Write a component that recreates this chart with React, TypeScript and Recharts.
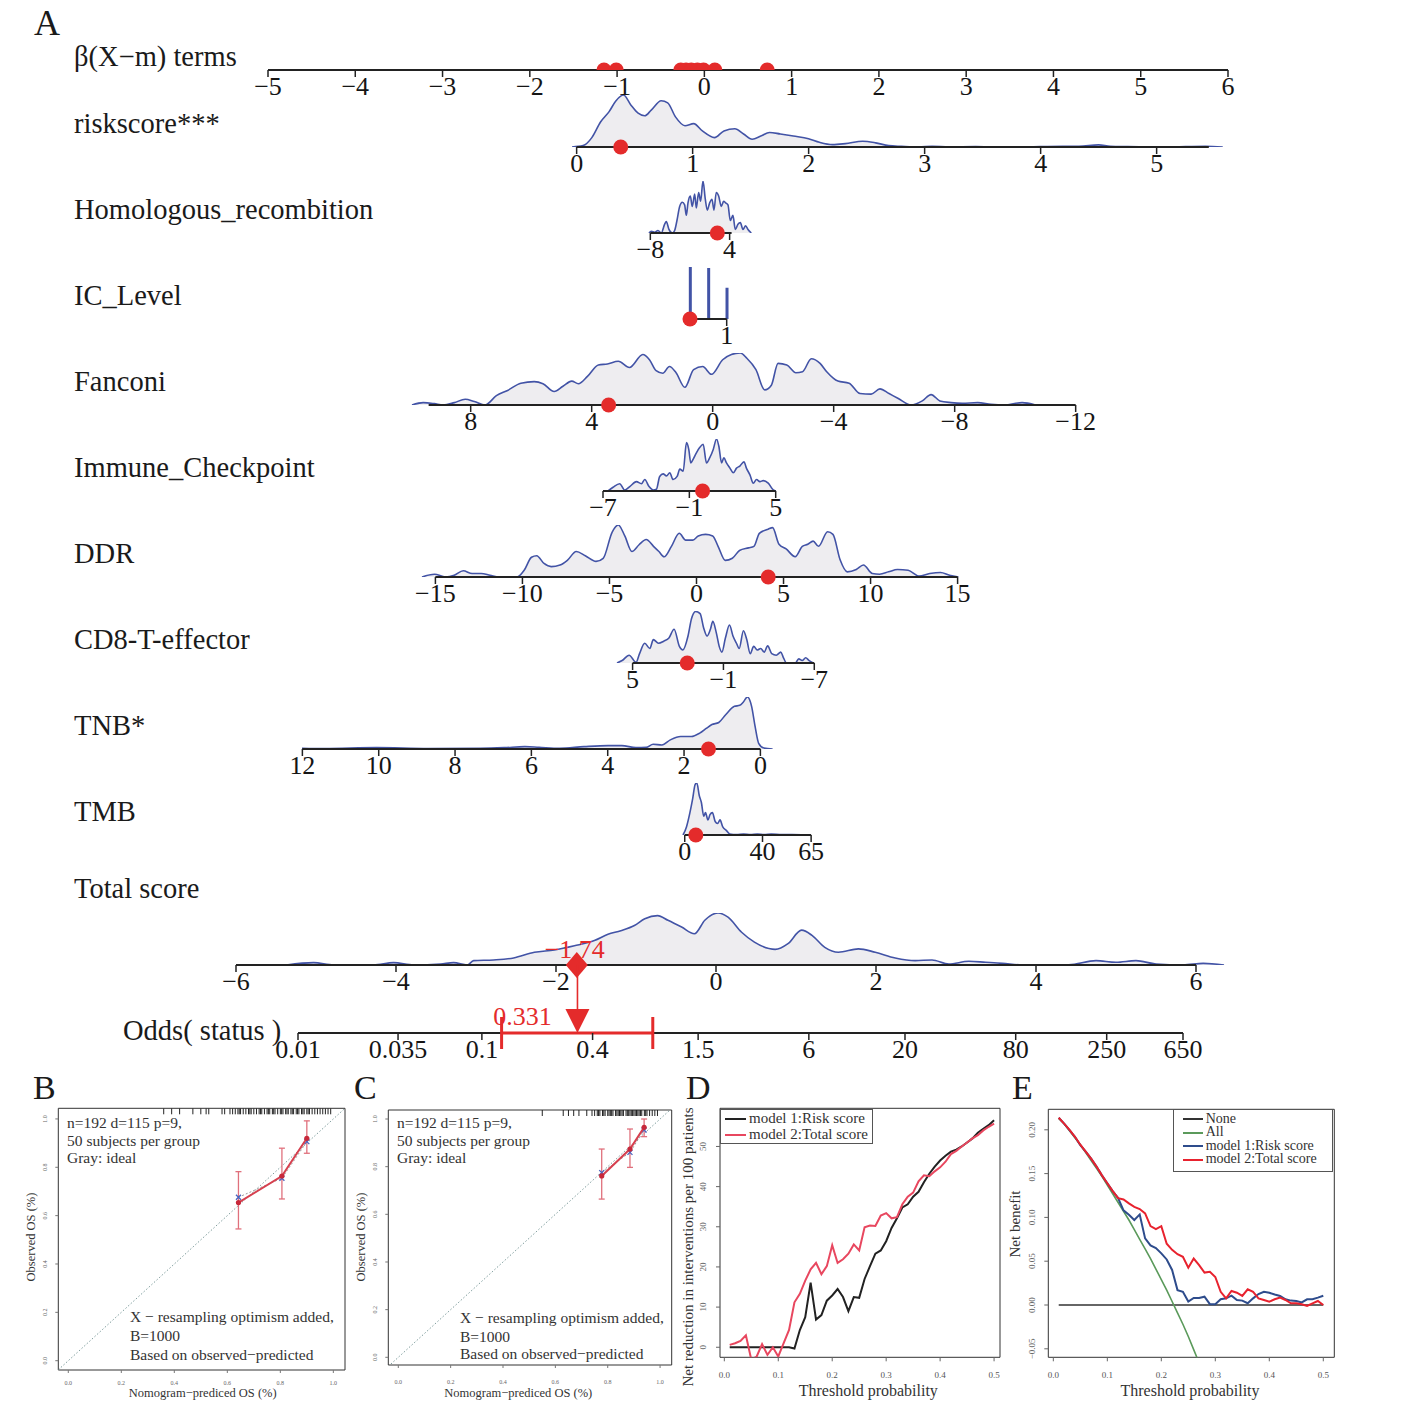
import React from 'react';
import {
  ComposedChart, LineChart, Area, Bar, Line, Scatter, XAxis, YAxis,
  ReferenceLine, ReferenceDot, ReferenceArea, ErrorBar,
} from 'recharts';

const SERIF = "'Liberation Serif', 'Times New Roman', Times, serif";
const RED = '#E42B2B';
const BLUE = '#4253A6';
const FILL = '#EEEDF0';
const MINUS = '\u2212';
const fmt = (v: number) => String(v).replace('-', MINUS);

// ---------- panel A : nomogram ----------
const betaTicks = [-5, -4, -3, -2, -1, 0, 1, 2, 3, 4, 5, 6];
const betaPoints = [-1.15, -1.01, -0.27, -0.21, -0.15, -0.08, -0.01, 0.12, 0.72];

const riskTicks = [0, 1, 2, 3, 4, 5];
const riskPoint = 0.38;
const riskDensity = [
  [-0.04, 0], [0.056, 0.027], [0.131, 0.18], [0.206, 0.48], [0.28, 0.68], [0.336, 0.88], [0.404, 1],
  [0.467, 0.81], [0.53, 0.65], [0.587, 0.6], [0.643, 0.71], [0.729, 0.89], [0.785, 0.85], [0.852, 0.58],
  [0.934, 0.41], [1.009, 0.45], [1.084, 0.31], [1.188, 0.18], [1.27, 0.31], [1.364, 0.35], [1.439, 0.25],
  [1.513, 0.15], [1.588, 0.21], [1.663, 0.28], [1.756, 0.25], [1.868, 0.21], [1.999, 0.16], [2.093, 0.09],
  [2.205, 0.045], [2.317, 0.065], [2.466, 0.11], [2.578, 0.08], [2.69, 0.027], [2.8, 0.013], [2.95, 0],
  [3.064, 0.013], [3.21, 0], [3.44, 0.007], [3.59, 0], [3.81, 0], [4.19, 0.013], [4.33, 0.013], [4.5, 0.04],
  [4.6, 0.013], [4.75, 0.007], [5.08, 0], [5.42, 0.013], [5.57, 0],
];

const hrTicks = [-8, 4];
const hrPoint = 2.14;
const hrDensity = [
  [-8.2, 0], [-7.85, 0.034], [-7.34, 0.014], [-6.84, 0.048], [-6.34, 0], [-5.83, 0.17], [-5.58, 0.22],
  [-5.18, 0.068], [-4.67, 0], [-4.32, 0.048], [-3.97, 0.24], [-3.56, 0.51], [-3.16, 0.59], [-2.81, 0.54],
  [-2.55, 0.34], [-2.3, 0.58], [-1.95, 0.71], [-1.65, 0.51], [-1.29, 0.75], [-1.04, 0.48], [-0.69, 0.78],
  [-0.39, 0.61], [-0.03, 1], [0.32, 0.65], [0.62, 0.44], [0.98, 0.58], [1.33, 0.65], [1.63, 0.44],
  [1.98, 0.78], [2.34, 0.71], [2.74, 0.51], [3.09, 0.61], [3.4, 0.58], [3.75, 0.54], [4.1, 0.24],
  [4.5, 0.34], [4.86, 0.068], [5.26, 0.17], [5.62, 0.2], [6.02, 0.068], [6.42, 0.14], [6.78, 0.068], [7.28, 0],
];

const icTicks = [1];
const icPoint = 0;
const icSpikes = [[0, 1], [0.5, 0.98], [1, 0.6]];

const fanconiTicks = [8, 4, 0, -4, -8, -12];
const fanconiPoint = 3.44;
const fanconiDensity = [
  [9.94, 0], [9.57, 0.046], [9.2, 0.026], [8.91, 0], [8.54, 0.046], [8.18, 0.11], [7.88, 0.066], [7.52, 0],
  [7.15, 0.18], [6.78, 0.28], [6.34, 0.42], [5.9, 0.45], [5.61, 0.41], [5.24, 0.26], [4.95, 0.36],
  [4.66, 0.46], [4.44, 0.41], [4.14, 0.55], [3.78, 0.77], [3.48, 0.79], [3.12, 0.84], [2.75, 0.72],
  [2.31, 0.97], [2.09, 0.87], [1.87, 0.66], [1.65, 0.61], [1.43, 0.74], [1.21, 0.62], [0.92, 0.34],
  [0.63, 0.68], [0.33, 0.74], [0.04, 0.59], [-0.33, 0.87], [-0.62, 0.97], [-0.91, 1], [-1.13, 0.9],
  [-1.43, 0.68], [-1.72, 0.29], [-1.94, 0.38], [-2.16, 0.8], [-2.45, 0.77], [-2.75, 0.62], [-2.97, 0.64],
  [-3.26, 0.89], [-3.55, 0.8], [-3.77, 0.64], [-4.14, 0.46], [-4.51, 0.42], [-4.87, 0.22], [-5.24, 0.21],
  [-5.53, 0.31], [-5.83, 0.22], [-6.12, 0.13], [-6.56, 0], [-6.93, 0.079], [-7.22, 0.2], [-7.51, 0.079],
  [-7.88, 0.046], [-8.25, 0.033], [-8.76, 0.046], [-9.2, 0.013], [-9.64, 0], [-10.23, 0.046], [-10.67, 0],
];

const immuneTicks = [-7, -1, 5];
const immunePoint = -0.08;
const immuneDensity = [
  [-6.65, 0], [-6.3, 0.072], [-5.84, 0.14], [-5.49, 0.02], [-5.14, 0.085], [-4.68, 0.18], [-4.33, 0.14],
  [-4.1, 0.22], [-3.8, 0.085], [-3.52, 0.02], [-3.29, 0.033], [-3.06, 0.28], [-2.82, 0.33], [-2.59, 0.29],
  [-2.36, 0.35], [-2.13, 0.22], [-1.85, 0.28], [-1.66, 0.42], [-1.43, 0.38], [-1.2, 0.93], [-1.04, 0.8],
  [-0.9, 0.54], [-0.74, 0.61], [-0.5, 0.74], [-0.27, 0.84], [-0.04, 0.9], [0.19, 0.54], [0.42, 0.64],
  [0.66, 0.8], [0.89, 1], [1.05, 0.86], [1.24, 0.54], [1.4, 0.64], [1.58, 0.54], [1.82, 0.44], [2.05, 0.35],
  [2.28, 0.44], [2.51, 0.48], [2.79, 0.56], [2.98, 0.43], [3.21, 0.31], [3.44, 0.15], [3.67, 0.22],
  [3.9, 0.18], [4.14, 0.2], [4.48, 0.15], [4.83, 0.02], [5.02, 0],
];

const ddrTicks = [-15, -10, -5, 0, 5, 10, 15];
const ddrPoint = 4.12;
const ddrDensity = [
  [-15.77, 0], [-15.05, 0.053], [-14.43, 0], [-13.92, 0.033], [-13.4, 0.12], [-12.89, 0.066], [-12.37, 0.066],
  [-11.86, 0.033], [-11.34, 0], [-10.31, 0], [-9.9, 0.13], [-9.48, 0.38], [-9.18, 0.41], [-8.76, 0.26],
  [-8.35, 0.2], [-7.84, 0.23], [-7.42, 0.32], [-6.91, 0.49], [-6.39, 0.41], [-5.77, 0.3], [-5.36, 0.36],
  [-4.85, 0.86], [-4.49, 1], [-4.12, 0.79], [-3.71, 0.49], [-3.3, 0.62], [-2.89, 0.72], [-2.47, 0.59],
  [-2.16, 0.49], [-1.86, 0.39], [-1.44, 0.59], [-0.99, 0.84], [-0.62, 0.71], [-0.21, 0.71], [0.1, 0.79],
  [0.52, 0.82], [0.93, 0.79], [1.24, 0.59], [1.65, 0.32], [2.06, 0.36], [2.47, 0.51], [2.99, 0.56],
  [3.3, 0.59], [3.61, 0.84], [4.12, 0.92], [4.37, 0.95], [4.74, 0.63], [5.15, 0.54], [5.67, 0.39],
  [6.08, 0.59], [6.39, 0.63], [6.7, 0.69], [7.01, 0.59], [7.53, 0.87], [7.84, 0.82], [8.25, 0.33],
  [8.66, 0.099], [9.18, 0.145], [9.59, 0.23], [10.1, 0.066], [10.52, 0.053], [11.03, 0.099], [11.55, 0.145],
  [12.16, 0.13], [12.78, 0.02], [13.4, 0.066], [14.02, 0.086], [14.54, 0.033], [15.05, 0],
];

const cd8Ticks = [5, -1, -7];
const cd8Point = 1.39;
const cd8Density = [
  [6.03, 0], [5.69, 0.047], [5.23, 0.15], [4.77, 0.013], [4.54, 0.18], [4.2, 0.38], [3.86, 0.28], [3.63, 0.45],
  [3.29, 0.38], [2.94, 0.42], [2.6, 0.48], [2.26, 0.65], [1.91, 0.32], [1.68, 0.25], [1.34, 0.52], [1.11, 0.85],
  [0.84, 0.99], [0.54, 0.95], [0.31, 0.68], [0.08, 0.52], [-0.14, 0.65], [-0.3, 0.8], [-0.53, 0.58],
  [-0.72, 0.32], [-0.9, 0.21], [-1.13, 0.48], [-1.4, 0.73], [-1.63, 0.52], [-1.86, 0.38], [-2.04, 0.28],
  [-2.32, 0.62], [-2.54, 0.45], [-2.77, 0.18], [-3.0, 0.32], [-3.23, 0.25], [-3.46, 0.28], [-3.69, 0.21],
  [-3.92, 0.33], [-4.19, 0.18], [-4.49, 0.15], [-4.79, 0.21], [-4.95, 0.11], [-5.17, 0], [-5.75, 0],
  [-5.97, 0.08], [-6.2, 0.047], [-6.43, 0.1], [-6.66, 0.047], [-6.93, 0],
];

const tnbTicks = [12, 10, 8, 6, 4, 2, 0];
const tnbPoint = 1.36;
const tnbDensity = [
  [12.01, 0.013], [11.42, 0.007], [10.06, 0.026], [8.7, 0.007], [7.34, 0.013], [6.71, 0.026], [6.17, 0.045],
  [5.8, 0.032], [5.26, 0.013], [4.62, 0.045], [3.99, 0.065], [3.63, 0.065], [3.26, 0.026], [2.99, 0.032],
  [2.81, 0.091], [2.58, 0.078], [2.36, 0.175], [2.09, 0.24], [1.81, 0.24], [1.59, 0.305], [1.41, 0.4],
  [1.27, 0.47], [1.09, 0.51], [0.91, 0.66], [0.68, 0.82], [0.54, 0.84], [0.45, 0.9], [0.34, 1], [0.23, 0.82],
  [0.14, 0.44], [0.045, 0.11], [-0.09, 0.02], [-0.32, 0],
];

const tmbTicks = [0, 40, 65];
const tmbPoint = 5.7;
const tmbDensity = [
  [-0.89, 0], [0.89, 0.155], [2.67, 0.43], [4.09, 0.7], [5.34, 0.97], [6.23, 1], [7.47, 0.76], [8.54, 0.63],
  [9.79, 0.36], [10.68, 0.43], [11.92, 0.29], [12.99, 0.39], [14.23, 0.43], [15.66, 0.26], [16.9, 0.22],
  [18.15, 0.29], [19.57, 0.155], [21.35, 0.09], [23.13, 0.02], [26.69, 0.007], [30.25, 0.02], [33.81, 0.007],
  [37.37, 0.02], [40.93, 0.007], [44.48, 0.02], [49.82, 0.007], [55.16, 0.007], [62.28, 0],
];

const totalTicks = [-6, -4, -2, 0, 2, 4, 6];
const totalPoint = -1.74;
const totalDensity = [
  [-5.37, 0], [-5.03, 0.045], [-4.78, 0], [-4.28, 0], [-4.03, 0.045], [-3.78, 0], [-3.44, 0.019],
  [-3.28, 0.045], [-3.11, 0], [-3.03, 0.084], [-2.78, 0.097], [-2.53, 0.135], [-2.27, 0.245], [-2.02, 0.29],
  [-1.77, 0.37], [-1.52, 0.47], [-1.35, 0.59], [-1.19, 0.66], [-1.02, 0.76], [-0.89, 0.89], [-0.73, 0.95],
  [-0.6, 0.86], [-0.43, 0.73], [-0.27, 0.6], [-0.14, 0.86], [0.025, 1], [0.15, 0.92], [0.32, 0.63],
  [0.48, 0.44], [0.74, 0.3], [0.9, 0.41], [1.07, 0.67], [1.2, 0.57], [1.36, 0.34], [1.53, 0.245],
  [1.78, 0.31], [1.99, 0.245], [2.24, 0.135], [2.49, 0.084], [2.7, 0.097], [2.91, 0.019], [3.16, 0.071],
  [3.37, 0.052], [3.58, 0.032], [3.83, 0], [4.08, 0], [4.41, 0.006], [4.75, 0.084], [5.0, 0.052],
  [5.25, 0.084], [5.5, 0.019], [5.84, 0], [6.09, 0.032], [6.35, 0],
];

const oddsTicks = [0.01, 0.035, 0.1, 0.4, 1.5, 6, 20, 80, 250, 650];
const oddsPoint = 0.331;
const oddsLow = 0.128;
const oddsHigh = 0.85;

// ---------- panels B / C : calibration ----------
const calTicks = [0, 0.2, 0.4, 0.6, 0.8, 1.0];
const calBPred = [0.642, 0.806, 0.9];
const calBObs = [0.654, 0.764, 0.92];
const calBCorr = [0.676, 0.755, 0.906];
const calBLow = [0.545, 0.669, 0.858];
const calBHigh = [0.782, 0.879, 0.992];
const rugB = [0.36, 0.39, 0.42, 0.47, 0.5, 0.52, 0.53, 0.58, 0.59, 0.61, 0.62, 0.63, 0.64, 0.645, 0.65, 0.66,
  0.67, 0.68, 0.685, 0.69, 0.7, 0.71, 0.72, 0.725, 0.73, 0.74, 0.75, 0.755, 0.76, 0.77, 0.775, 0.78, 0.79, 0.8,
  0.805, 0.81, 0.82, 0.825, 0.83, 0.84, 0.845, 0.85, 0.86, 0.865, 0.87, 0.88, 0.885, 0.89, 0.9, 0.905, 0.91,
  0.92, 0.93, 0.94, 0.95, 0.96, 0.97, 0.98, 0.99];

const calCPred = [0.777, 0.885, 0.939];
const calCObs = [0.761, 0.874, 0.965];
const calCCorr = [0.775, 0.86, 0.954];
const calCLow = [0.664, 0.797, 0.926];
const calCHigh = [0.874, 0.958, 1.0];
const rugC = [0.55, 0.63, 0.65, 0.67, 0.69, 0.72, 0.74, 0.75, 0.76, 0.765, 0.77, 0.78, 0.785, 0.79, 0.8, 0.805,
  0.81, 0.815, 0.82, 0.83, 0.835, 0.84, 0.845, 0.85, 0.855, 0.86, 0.87, 0.875, 0.88, 0.885, 0.89, 0.895, 0.9,
  0.905, 0.91, 0.915, 0.92, 0.925, 0.93, 0.94, 0.945, 0.95, 0.96, 0.97, 0.98, 0.99];

// ---------- panels D / E : decision curves ----------
const thresholds = [0.01, 0.02, 0.03, 0.04, 0.05, 0.06, 0.07, 0.08, 0.09, 0.1, 0.11, 0.12, 0.13, 0.14, 0.15,
  0.16, 0.17, 0.18, 0.19, 0.2, 0.21, 0.22, 0.23, 0.24, 0.25, 0.26, 0.27, 0.28, 0.29, 0.3, 0.31, 0.32, 0.33,
  0.34, 0.35, 0.36, 0.37, 0.38, 0.39, 0.4, 0.41, 0.42, 0.43, 0.44, 0.45, 0.46, 0.47, 0.48, 0.49, 0.5];
const dModel1 = [0, 0, 0, 0, 0, 0, 0, 0, 0, 0, 0, 0, -0.3, 4.3, 7.5, 16.1, 6.9, 8, 11.6, 12.9, 14.5, 12.5, 9,
  12.5, 12.3, 17, 20.2, 23.3, 24.1, 26.4, 29.7, 32.1, 34.8, 35.6, 37.5, 38.7, 41.1, 43.2, 45, 46.5, 47.7, 48.7,
  49.2, 50, 51, 52, 53.4, 54.4, 55.3, 56.5];
const dModel2 = [0.6, 1, 1.6, 3, -3.1, -2.3, 0.8, -1.9, 0, -2.3, 1, 4.3, 11.2, 13.3, 16.6, 19.4, 21, 18.2, 20.2,
  25.4, 21, 21.9, 23.3, 25.6, 24.1, 29.9, 30.3, 30.2, 32.8, 33.4, 32.1, 32.4, 35.6, 37.5, 38.5, 41.3, 42.8,
  42.6, 43.8, 44.8, 46.2, 48.1, 48.9, 50, 51, 52, 52.8, 54, 54.9, 55.7];
const eAll = [0.213, 0.207, 0.199, 0.191, 0.183, 0.174, 0.165, 0.156, 0.147, 0.137, 0.127, 0.117, 0.107, 0.097,
  0.086, 0.075, 0.064, 0.053, 0.041, 0.029, 0.017, 0.004, -0.009, -0.022, -0.036, -0.051, -0.066];
const eModel1 = [0.2137, 0.207, 0.1996, 0.192, 0.1825, 0.175, 0.167, 0.158, 0.148, 0.139, 0.13, 0.122, 0.108,
  0.103, 0.097, 0.1034, 0.076, 0.068, 0.065, 0.059, 0.052, 0.04, 0.017, 0.015, 0.004, 0.008, 0.008, 0.0095,
  0.001, 0.001, 0.0065, 0.0076, 0.0106, 0.0057, 0.005, 0.002, 0.0076, 0.0125, 0.015, 0.014, 0.012, 0.0103,
  0.0065, 0.005, 0.0046, 0.003, 0.0065, 0.0065, 0.0084, 0.0106];
const eModel2 = [0.2137, 0.207, 0.2, 0.192, 0.183, 0.175, 0.167, 0.158, 0.148, 0.139, 0.13, 0.122, 0.1205,
  0.116, 0.112, 0.1095, 0.1046, 0.09, 0.0867, 0.09, 0.07, 0.063, 0.058, 0.055, 0.0426, 0.053, 0.0456, 0.037,
  0.038, 0.032, 0.015, 0.0076, 0.016, 0.014, 0.0103, 0.0179, 0.015, 0.0076, 0.0057, 0.0038, 0.0065, 0.0084,
  0.0057, 0.0019, 0.0019, 0.0008, -0.0011, 0.0019, 0.0046, 0];

// ---------- layout ----------
type RowDef = {
  label: string; labelX?: number; labelMid: number; axisY: number;
  pxA: number; vA: number; pxB: number; vB: number; axis: number[];
  ticks: number[]; density?: number[][]; spikes?: number[][];
  point?: number; points?: number[]; log?: boolean; plotH?: number; kind?: string;
};

const rows: RowDef[] = [
  { label: 'β(X−m) terms', labelMid: 58, axisY: 70, pxA: 268, vA: -5, pxB: 1228, vB: 6, axis: [-5, 6], ticks: betaTicks, points: betaPoints },
  { label: 'riskscore***', labelMid: 125, axisY: 147, pxA: 577, vA: 0, pxB: 1157, vB: 5, axis: [0, 5.45], ticks: riskTicks, density: riskDensity, point: riskPoint },
  { label: 'Homologous_recombition', labelMid: 211, axisY: 233, pxA: 650.7, vA: -8, pxB: 730, vB: 4, axis: [-8, 4.3], ticks: hrTicks, density: hrDensity, point: hrPoint },
  { label: 'IC_Level', labelMid: 297, axisY: 319, pxA: 690, vA: 0, pxB: 726.7, vB: 1, axis: [0, 1], ticks: icTicks, spikes: icSpikes, point: icPoint },
  { label: 'Fanconi', labelMid: 383, axisY: 405, pxA: 471, vA: 8, pxB: 1076, vB: -12, axis: [-12, 9.39], ticks: fanconiTicks, density: fanconiDensity, point: fanconiPoint },
  { label: 'Immune_Checkpoint', labelMid: 469, axisY: 491, pxA: 603.3, vA: -7, pxB: 776, vB: 5, axis: [-7, 5], ticks: immuneTicks, density: immuneDensity, point: immunePoint },
  { label: 'DDR', labelMid: 555, axisY: 577, pxA: 435.8, vA: -15, pxB: 958, vB: 15, axis: [-15, 15], ticks: ddrTicks, density: ddrDensity, point: ddrPoint },
  { label: 'CD8-T-effector', labelMid: 641, axisY: 663, pxA: 632.7, vA: 5, pxB: 814.4, vB: -7, axis: [-7, 5], ticks: cd8Ticks, density: cd8Density, point: cd8Point },
  { label: 'TNB*', labelMid: 727, axisY: 749, pxA: 302, vA: 12, pxB: 760, vB: 0, axis: [0, 12], ticks: tnbTicks, density: tnbDensity, point: tnbPoint },
  { label: 'TMB', labelMid: 813, axisY: 835, pxA: 684.6, vA: 0, pxB: 811, vB: 65, axis: [0, 65], ticks: tmbTicks, density: tmbDensity, point: tmbPoint },
  { label: 'Total score', labelMid: 890, axisY: 965, pxA: 236, vA: -6, pxB: 1196, vB: 6, axis: [-6, 6], ticks: totalTicks, density: totalDensity, point: totalPoint, kind: 'total' },
  { label: 'Odds( status )', labelX: 123, labelMid: 1032, axisY: 1033, pxA: 298, vA: 0.01, pxB: 1183, vB: 650, axis: [0.01, 650], ticks: oddsTicks, log: true, plotH: 68, kind: 'odds' },
];

function rowGeom(r: RowDef) {
  const f = r.log ? Math.log10 : (v: number) => v;
  const inv = r.log ? (u: number) => Math.pow(10, u) : (u: number) => u;
  const b = (r.pxB - r.pxA) / (f(r.vB) - f(r.vA));
  const px = (u: number) => r.pxA + b * (u - f(r.vA));
  const xs = [f(r.axis[0]), f(r.axis[1])];
  (r.density || []).forEach(([x]) => xs.push(f(x)));
  const pad = 36 / Math.abs(b);
  const lo = Math.min(...xs) - pad;
  const hi = Math.max(...xs) + pad;
  return {
    domain: [inv(lo), inv(hi)],
    left: Math.min(px(lo), px(hi)),
    width: Math.abs(b) * (hi - lo),
    reversed: b < 0,
  };
}

const LABEL_SIZE = 28.5;
const TICK_SIZE = 26;

function Txt({ x, base, size, color = '#1a1a1a', anchor = 'start', children }: any) {
  return (
    <div style={{
      position: 'absolute', left: x, top: base - 0.8375 * size, fontSize: size, lineHeight: 1,
      whiteSpace: 'nowrap', color, fontFamily: SERIF,
      transform: anchor === 'middle' ? 'translateX(-50%)' : undefined,
    }}>{children}</div>
  );
}

function VTxt({ cx, cy, size, color = '#222', children }: any) {
  return (
    <div style={{
      position: 'absolute', left: cx, top: cy, fontSize: size, lineHeight: 1, whiteSpace: 'nowrap',
      color, fontFamily: SERIF, transform: 'translate(-50%, -50%) rotate(-90deg)',
    }}>{children}</div>
  );
}

const RedDot = (p: any) => <circle cx={p.cx} cy={p.cy} r={7.5} fill={RED} />;

const Diamond = (p: any) => (
  <g>
    <polygon points={`${p.cx},${p.cy - 13} ${p.cx + 11},${p.cy} ${p.cx},${p.cy + 13} ${p.cx - 11},${p.cy}`} fill={RED} />
    <text x={p.cx - 2} y={p.cy - 7} textAnchor="middle" fontSize={TICK_SIZE} fill={RED} fontFamily={SERIF}>{fmt(totalPoint)}</text>
  </g>
);

const Arrow = (p: any) => (
  <g>
    <polygon points={`${p.cx - 12},${p.cy - 24} ${p.cx + 12},${p.cy - 24} ${p.cx},${p.cy}`} fill={RED} />
    <text x={p.cx - 55} y={p.cy - 8} textAnchor="middle" fontSize={TICK_SIZE} fill={RED} fontFamily={SERIF}>{String(oddsPoint)}</text>
  </g>
);

function NomoRow({ r }: { r: RowDef }) {
  const g = rowGeom(r);
  const plotH = r.plotH || 52;
  const top = 2;
  const axisH = 36;
  const h = top + plotH + axisH;
  let data: any[] = [];
  if (r.density) data = r.density.map(([x, d]) => ({ x, d }));
  else if (r.spikes) data = r.spikes.map(([x, d]) => ({ x, d }));
  else if (r.points) data = r.points.map((x) => ({ x, y: 0 }));
  const oddsData = [{ x: oddsPoint, y: 0, err: [oddsPoint - oddsLow, oddsHigh - oddsPoint] }];
  return (
    <div style={{ position: 'absolute', left: g.left, top: r.axisY - plotH - top, width: g.width, height: h }}>
      <ComposedChart width={g.width} height={h} data={r.kind === 'odds' ? oddsData : data}
        margin={{ top, right: 0, bottom: 0, left: 0 }}>
        <XAxis dataKey="x" type="number" scale={r.log ? 'log' : 'auto'} domain={g.domain} allowDataOverflow
          reversed={g.reversed} ticks={r.ticks} interval={0} axisLine={false}
          tickLine={{ stroke: '#222', strokeWidth: 1.5 }} tickSize={7} tickMargin={0} height={axisH}
          tick={{ fontSize: TICK_SIZE, fill: '#151515', fontFamily: SERIF }} tickFormatter={fmt} />
        <YAxis hide type="number" domain={[0, 1]} allowDataOverflow />
        {r.density && (
          <Area type="monotone" dataKey="d" stroke={BLUE} strokeWidth={1.6} fill={FILL} fillOpacity={1}
            dot={false} activeDot={false} isAnimationActive={false} />
        )}
        {r.spikes && <Bar dataKey="d" fill={BLUE} barSize={3} isAnimationActive={false} />}
        <ReferenceLine segment={[{ x: r.axis[0], y: 0 }, { x: r.axis[1], y: 0 }]} stroke="#222"
          strokeWidth={2} ifOverflow="visible" />
        {r.points && <Scatter dataKey="y" shape={RedDot} isAnimationActive={false} />}
        {r.point !== undefined && r.kind !== 'total' && (
          <ReferenceDot x={r.point} y={0} r={7.5} fill={RED} stroke="none" ifOverflow="visible" />
        )}
        {r.kind === 'total' && (
          <ReferenceDot x={r.point} y={0} r={10} ifOverflow="visible" shape={Diamond} />
        )}
        {r.kind === 'odds' && (
          <ReferenceLine segment={[{ x: oddsPoint, y: 1 }, { x: oddsPoint, y: 0.3 }]} stroke={RED}
            strokeWidth={1.6} ifOverflow="visible" />
        )}
        {r.kind === 'odds' && (
          <Scatter dataKey="y" shape={Arrow} isAnimationActive={false}>
            <ErrorBar dataKey="err" direction="x" width={16} stroke={RED} strokeWidth={3} />
          </Scatter>
        )}
      </ComposedChart>
    </div>
  );
}

// ---------- small helpers for B-E ----------
const RotTick = (p: any) => {
  const { x, y, payload, size, digits } = p;
  return (
    <text x={x} y={y} transform={`rotate(-90 ${x} ${y})`} textAnchor="middle" fontSize={size}
      fill="#666" fontFamily={SERIF}>{Number(payload.value).toFixed(digits).replace('-', MINUS)}</text>
  );
};

const RugMark = (p: any) => <line x1={p.cx} x2={p.cx} y1={p.cy} y2={p.cy + 6} stroke="#222" strokeWidth={1} />;
const XMark = (p: any) => (
  <g stroke="#4A64C0" strokeWidth={1.3}>
    <line x1={p.cx - 2.5} y1={p.cy - 2.5} x2={p.cx + 2.5} y2={p.cy + 2.5} />
    <line x1={p.cx - 2.5} y1={p.cy + 2.5} x2={p.cx + 2.5} y2={p.cy - 2.5} />
  </g>
);
const SmallDot = (p: any) => <circle cx={p.cx} cy={p.cy} r={2.6} fill="#C8283A" />;

function CalPanel({ g, pred, obs, corr, low, high, rug }: any) {
  const obsData = pred.map((x: number, i: number) => ({ x, y: obs[i], err: [obs[i] - low[i], high[i] - obs[i]] }));
  const corrData = pred.map((x: number, i: number) => ({ x, y: corr[i] }));
  const rugData = rug.map((x: number) => ({ x, y: g.yd[1] }));
  return (
    <div style={{ position: 'absolute', left: g.left, top: g.top, width: g.w, height: g.h }}>
      <ComposedChart width={g.w} height={g.h} margin={{ top: g.mt, right: g.mr, left: 0, bottom: 0 }}>
        <XAxis dataKey="x" type="number" domain={g.xd} allowDataOverflow ticks={calTicks} interval={0}
          axisLine={false} tickLine={{ stroke: '#777' }} tickSize={3} tickMargin={g.xm} height={g.xh}
          tick={{ fontSize: 6, fill: '#666', fontFamily: SERIF }} tickFormatter={(v: number) => v.toFixed(1)} />
        <YAxis dataKey="y" type="number" domain={g.yd} allowDataOverflow ticks={calTicks} interval={0}
          axisLine={false} tickLine={{ stroke: '#777' }} tickSize={3} tickMargin={g.ym} width={g.yw}
          tick={<RotTick size={6} digits={1} />} />
        <ReferenceArea x1={g.xd[0]} x2={g.xd[1]} y1={g.yd[0]} y2={g.yd[1]} fill="none" stroke="#333"
          strokeWidth={1} ifOverflow="visible" />
        <ReferenceLine segment={[{ x: g.xd[0], y: g.xd[0] }, { x: g.yd[1], y: g.yd[1] }]} stroke="#7E9C9C"
          strokeDasharray="1.5 2" strokeWidth={1} ifOverflow="hidden" />
        <Scatter data={rugData} dataKey="y" shape={RugMark} isAnimationActive={false} />
        <Scatter data={corrData} dataKey="y" line={{ stroke: '#9a9a9a', strokeDasharray: '2 2', strokeWidth: 1 }}
          shape={XMark} isAnimationActive={false} />
        <Scatter data={obsData} dataKey="y" line={{ stroke: '#D6404F', strokeWidth: 2 }} shape={SmallDot}
          isAnimationActive={false}>
          <ErrorBar dataKey="err" direction="y" width={3} stroke="#E0707C" strokeWidth={1.3} />
        </Scatter>
      </ComposedChart>
    </div>
  );
}

function LegendBox({ x, y, w, h, items, first, step, sx, sw, tx, size }: any) {
  return (
    <div style={{ position: 'absolute', left: x, top: y, width: w, height: h, border: '1px solid #555',
      boxSizing: 'border-box', background: '#fff' }}>
      {items.map((it: any, i: number) => (
        <React.Fragment key={it.label}>
          <div style={{ position: 'absolute', left: sx, top: first + i * step - 1, width: sw, height: 2, background: it.color }} />
          <div style={{ position: 'absolute', left: tx, top: first + i * step - size * 0.55, fontSize: size,
            lineHeight: 1, whiteSpace: 'nowrap', fontFamily: SERIF, color: '#333' }}>{it.label}</div>
        </React.Fragment>
      ))}
    </div>
  );
}

const calB = { left: 20, top: 1100, w: 340, h: 300, mt: 8.3, mr: 15, yw: 38.3, xh: 30, xm: 8, ym: 8.3,
  xd: [-0.0377, 1.044], yd: [-0.0385, 1.044] };
const calC = { left: 350, top: 1100, w: 340, h: 300, mt: 10, mr: 18.3, yw: 38.3, xh: 35, xm: 11.4, ym: 8.3,
  xd: [-0.0382, 1.0444], yd: [-0.0323, 1.0378] };

export default function App() {
  const dRows = thresholds.map((t, i) => ({ t, m1: dModel1[i], m2: dModel2[i] }));
  const eRows = thresholds.map((t, i) => ({ t, all: i < eAll.length ? eAll[i] : null, m1: eModel1[i], m2: eModel2[i] }));
  const dcaXTicks = [0, 0.1, 0.2, 0.3, 0.4, 0.5];
  return (
    <div style={{ position: 'absolute', left: 0, top: 0, width: 1401, height: 1410, background: '#fff',
      fontFamily: SERIF, overflow: 'hidden' }}>
      {/* panel letters */}
      <Txt x={34} base={35} size={36}>A</Txt>
      <Txt x={33} base={1099} size={34}>B</Txt>
      <Txt x={354} base={1099} size={34}>C</Txt>
      <Txt x={686} base={1099} size={34}>D</Txt>
      <Txt x={1012} base={1099} size={34}>E</Txt>

      {/* nomogram */}
      {rows.map((r) => (
        <React.Fragment key={r.label}>
          <Txt x={r.labelX || 74} base={r.labelMid + 9} size={LABEL_SIZE}>{r.label}</Txt>
          <NomoRow r={r} />
        </React.Fragment>
      ))}

      {/* B */}
      <CalPanel g={calB} pred={calBPred} obs={calBObs} corr={calBCorr} low={calBLow} high={calBHigh} rug={rugB} />
      <Txt x={67} base={1128} size={15.5} color="#333">n=192 d=115 p=9,</Txt>
      <Txt x={67} base={1145.5} size={15.5} color="#333">50 subjects per group</Txt>
      <Txt x={67} base={1163} size={15.5} color="#333">Gray: ideal</Txt>
      <Txt x={130} base={1322} size={15.5} color="#333">X − resampling optimism added,</Txt>
      <Txt x={130} base={1340.5} size={15.5} color="#333">B=1000</Txt>
      <Txt x={130} base={1360} size={15.5} color="#333">Based on observed−predicted</Txt>
      <Txt x={202.7} base={1397} size={12.5} color="#333" anchor="middle">Nomogram−prediced OS (%)</Txt>
      <VTxt cx={31} cy={1237} size={12.5} color="#333">Observed OS (%)</VTxt>

      {/* C */}
      <CalPanel g={calC} pred={calCPred} obs={calCObs} corr={calCCorr} low={calCLow} high={calCHigh} rug={rugC} />
      <Txt x={397} base={1128} size={15.5} color="#333">n=192 d=115 p=9,</Txt>
      <Txt x={397} base={1145.5} size={15.5} color="#333">50 subjects per group</Txt>
      <Txt x={397} base={1163} size={15.5} color="#333">Gray: ideal</Txt>
      <Txt x={460} base={1323} size={15.5} color="#333">X − resampling optimism added,</Txt>
      <Txt x={460} base={1341.5} size={15.5} color="#333">B=1000</Txt>
      <Txt x={460} base={1359} size={15.5} color="#333">Based on observed−predicted</Txt>
      <Txt x={518.3} base={1397} size={12.5} color="#333" anchor="middle">Nomogram−prediced OS (%)</Txt>
      <VTxt cx={361} cy={1237} size={12.5} color="#333">Observed OS (%)</VTxt>

      {/* D */}
      <div style={{ position: 'absolute', left: 680, top: 1100, width: 330, height: 300 }}>
        <LineChart width={330} height={300} data={dRows} margin={{ top: 8.3, right: 10, left: 0, bottom: 0 }}>
          <XAxis dataKey="t" type="number" domain={[-0.008, 0.511]} allowDataOverflow ticks={dcaXTicks} interval={0}
            axisLine={false} tickLine={{ stroke: '#666' }} tickSize={4} tickMargin={10.3} height={42.7}
            tick={{ fontSize: 9, fill: '#555', fontFamily: SERIF }} tickFormatter={(v: number) => v.toFixed(1)} />
          <YAxis type="number" domain={[-2.5, 59.5]} allowDataOverflow ticks={[0, 10, 20, 30, 40, 50]} interval={0}
            axisLine={false} tickLine={{ stroke: '#666' }} tickSize={4} tickMargin={10.3} width={40}
            tick={<RotTick size={9} digits={0} />} />
          <ReferenceArea x1={-0.008} x2={0.511} y1={-2.5} y2={59.5} fill="none" stroke="#333" strokeWidth={1}
            ifOverflow="visible" />
          <Line type="linear" dataKey="m1" stroke="#222" strokeWidth={2} dot={false} activeDot={false}
            isAnimationActive={false} />
          <Line type="linear" dataKey="m2" stroke="#E8475F" strokeWidth={2} dot={false} activeDot={false}
            isAnimationActive={false} />
        </LineChart>
      </div>
      <LegendBox x={720} y={1109} w={153} h={35} first={9.3} step={15.7} sx={3.5} sw={21} tx={28} size={15}
        items={[{ label: 'model 1:Risk score', color: '#222' }, { label: 'model 2:Total score', color: '#E8475F' }]} />
      <Txt x={868.3} base={1396} size={16} color="#333" anchor="middle">Threshold probability</Txt>
      <VTxt cx={688} cy={1247} size={15} color="#333">Net reduction in interventions per 100 patients</VTxt>

      {/* E */}
      <div style={{ position: 'absolute', left: 1000, top: 1100, width: 345, height: 300 }}>
        <LineChart width={345} height={300} data={eRows} margin={{ top: 9.3, right: 10.7, left: 0, bottom: 0 }}>
          <XAxis dataKey="t" type="number" domain={[-0.0093, 0.5204]} allowDataOverflow ticks={dcaXTicks} interval={0}
            axisLine={false} tickLine={{ stroke: '#666' }} tickSize={4} tickMargin={10.3} height={42.7}
            tick={{ fontSize: 9, fill: '#555', fontFamily: SERIF }} tickFormatter={(v: number) => v.toFixed(1)} />
          <YAxis type="number" domain={[-0.0597, 0.2234]} allowDataOverflow ticks={[-0.05, 0, 0.05, 0.1, 0.15, 0.2]}
            interval={0} axisLine={false} tickLine={{ stroke: '#666' }} tickSize={4} tickMargin={9.6} width={48.3}
            tick={<RotTick size={9} digits={2} />} />
          <ReferenceArea x1={-0.0093} x2={0.5204} y1={-0.0597} y2={0.2234} fill="none" stroke="#333"
            strokeWidth={1} ifOverflow="visible" />
          <ReferenceLine segment={[{ x: 0.01, y: 0 }, { x: 0.5, y: 0 }]} stroke="#333" strokeWidth={1.5} />
          <Line type="linear" dataKey="all" stroke="#5B9A5B" strokeWidth={1.6} dot={false} activeDot={false}
            isAnimationActive={false} />
          <Line type="linear" dataKey="m1" stroke="#2E4C8C" strokeWidth={2} dot={false} activeDot={false}
            isAnimationActive={false} />
          <Line type="linear" dataKey="m2" stroke="#E8222E" strokeWidth={2} dot={false} activeDot={false}
            isAnimationActive={false} />
        </LineChart>
      </div>
      <LegendBox x={1172.7} y={1109.3} w={160.6} h={63} first={9} step={13.6} sx={9} sw={20} tx={32} size={14}
        items={[{ label: 'None', color: '#333' }, { label: 'All', color: '#5B9A5B' },
          { label: 'model 1:Risk score', color: '#2E4C8C' }, { label: 'model 2:Total score', color: '#E8222E' }]} />
      <Txt x={1190} base={1396} size={16} color="#333" anchor="middle">Threshold probability</Txt>
      <VTxt cx={1015} cy={1224} size={15} color="#333">Net benefit</VTxt>
    </div>
  );
}
